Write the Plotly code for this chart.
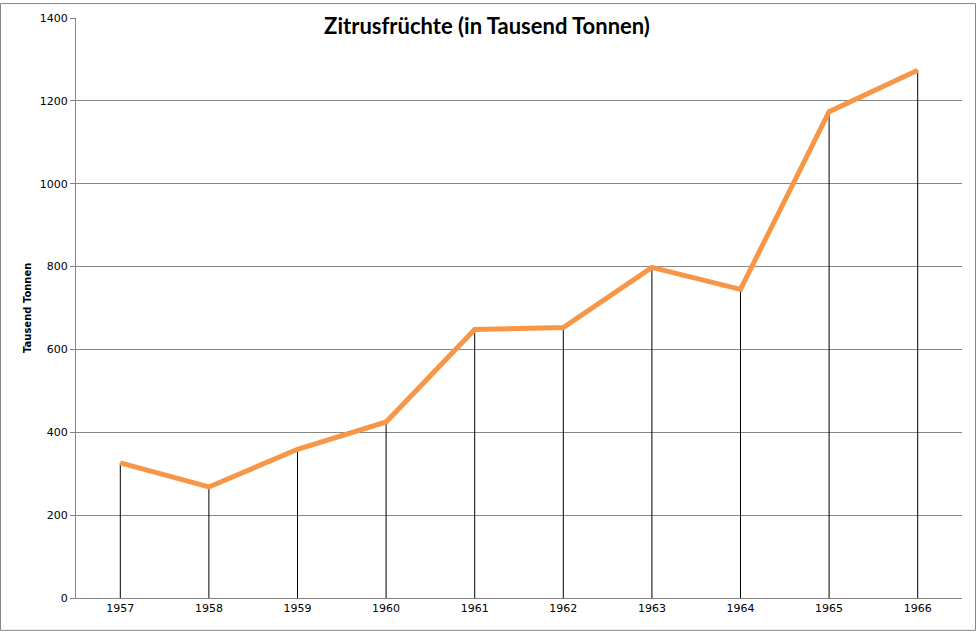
import plotly.graph_objects as go

years = ["1957", "1958", "1959", "1960", "1961", "1962", "1963", "1964", "1965", "1966"]
tonnes = [326, 268, 359, 425, 648, 653, 798, 745, 1174, 1274]
y_ticks = [0, 200, 400, 600, 800, 1000, 1200, 1400]

title_text = "Zitrusfrüchte (in Tausend Tonnen)"
y_title = "Tausend Tonnen"

fig = go.Figure()

# drop lines (to the category axis)
fig.add_trace(go.Scatter(
    x=years, y=tonnes, mode="markers",
    marker=dict(size=0.1, color="rgba(0,0,0,0)"),
    error_y=dict(type="data", symmetric=False, array=[0] * len(tonnes),
                 arrayminus=tonnes, color="black", thickness=1, width=0),
    hoverinfo="skip", showlegend=False,
))

fig.add_trace(go.Scatter(
    x=years, y=tonnes, mode="lines",
    line=dict(color="#F79646", width=5),
    showlegend=False,
))

fig.update_layout(
    width=977, height=632,
    margin=dict(l=76, r=15, t=15, b=34),
    paper_bgcolor="white", plot_bgcolor="white",
    title=dict(text=title_text, x=487 / 977, xref="container", xanchor="center",
               y=1 - 26 / 632, yref="container", yanchor="middle",
               font=dict(family="Lato", size=22, color="black", weight="bold")),
    font=dict(family="DejaVu Sans", size=11, color="black"),
    xaxis=dict(type="category", showgrid=False, showline=True, linecolor="#868686",
               linewidth=1, ticks="", tickfont=dict(size=11, family="DejaVu Sans"),
               range=[-0.5, len(years) - 0.5], fixedrange=True),
    yaxis=dict(range=[0, 1400], tickvals=y_ticks, showgrid=True, gridcolor="#868686",
               gridwidth=1, showline=True, linecolor="#868686", linewidth=1,
               ticks="outside", ticklen=5, tickcolor="#868686", zeroline=False,
               tickfont=dict(size=11, family="DejaVu Sans")),
    annotations=[dict(text=y_title, textangle=-90, xref="paper", yref="paper",
                      x=(27 - 76) / 886, y=0.5, showarrow=False,
                      xanchor="center", yanchor="middle",
                      font=dict(family="DejaVu Sans", size=10, color="black", weight="bold"))],
    shapes=[dict(type="rect", xref="paper", yref="paper",
                 x0=(0.5 - 76) / 886, x1=(975.5 - 76) / 886,
                 y0=(598 - 630.5) / 583, y1=(598 - 0.5) / 583,
                 line=dict(color="#868686", width=1), layer="below")],
)

fig.write_html("out.html", config={"displayModeBar": False},
               post_script="document.body.style.margin='0';document.body.style.padding='0';")
